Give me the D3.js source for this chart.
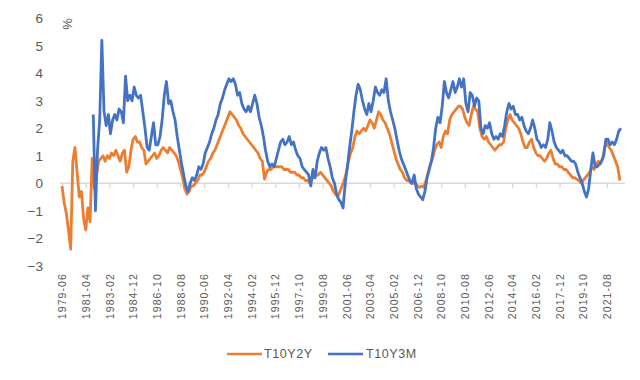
<!DOCTYPE html>
<html><head><meta charset="utf-8">
<script src="https://cdn.jsdelivr.net/npm/d3@7"></script>
<style>
body{margin:0;background:#fff}
svg{display:block}
text{font-family:"Liberation Sans",Arial,sans-serif;fill:#595959}
</style>
</head><body>
<svg id="chart" width="640" height="380"></svg>
<script>
// ---- data ----
const seriesNames = ["T10Y2Y", "T10Y3M"];
const seriesColors = ["#ED7D31", "#4472C4"];
const t10y2yStart = "1979-06";   // first observation
const t10y3mStart = "1981-11";
const stepMonths = 2;            // one value every two months

const t10y2y = [
 -0.1,-0.7,-1.1,-1.7,-2.4,0.8,1.3,0.4,-0.5,-0.3,-1.3,-1.7,-0.9,-1.4,0.9,-0.2,0.3,0.8,0.9,1.0,
 0.8,1.0,0.9,1.1,1.0,1.2,1.0,0.8,1.1,1.2,0.4,0.6,1.2,1.6,1.7,1.5,1.5,1.3,1.2,0.7,
 0.8,0.9,1.0,1.1,0.9,1.0,1.2,1.3,1.2,1.1,1.3,1.2,1.1,1.0,0.8,0.5,0.2,-0.2,-0.4,-0.3,
 -0.1,-0.1,0.0,0.1,0.3,
 0.3,0.4,0.6,0.8,0.9,1.1,1.2,1.4,1.6,1.8,2.0,2.2,2.4,2.6,2.5,2.4,2.3,2.1,2.0,1.8,
 1.7,1.6,1.5,1.4,1.3,1.2,1.1,0.9,0.8,0.15,0.4,0.5,0.5,0.6,0.6,0.6,0.6,0.6,0.5,0.5,
 0.5,0.4,0.4,0.4,0.3,0.3,0.2,0.2,0.1,0.1,0.0,0.2,0.2,0.3,0.3,0.4,0.3,0.2,0.1,0.0,
 -0.1,-0.3,-0.4,-0.5,-0.3,
 -0.1,0.1,0.4,0.8,1.1,1.3,1.7,1.9,1.8,1.9,2.0,1.9,2.1,2.3,2.2,2.0,2.3,2.6,2.5,2.3,
 2.2,2.0,1.8,1.5,1.2,0.9,0.7,0.5,0.4,0.2,0.1,0.1,0.0,0.0,0.0,-0.1,-0.15,-0.1,-0.15,0.1,
 0.4,0.7,0.9,1.2,1.4,1.5,1.3,1.7,1.9,1.8,2.3,2.5,2.6,2.7,2.8,2.8,2.7,2.4,2.2,2.1,
 2.5,2.8,2.7,2.6,
 2.0,1.7,1.6,1.7,1.5,1.4,1.3,1.2,1.3,1.4,1.4,1.5,2.0,2.3,2.5,2.3,2.2,2.1,2.0,1.8,
 1.5,1.3,1.3,1.5,1.6,1.3,1.1,1.0,1.0,0.9,0.8,0.9,1.1,1.2,0.9,0.7,0.7,0.6,0.6,0.5,
 0.5,0.4,0.3,0.2,0.2,0.15,0.1,0.0,0.1,0.2,0.3,0.4,0.6,0.5,0.7,0.8,0.7,0.9,1.3,1.5,
 1.3,1.2,1.0,0.8,0.6,0.1
];

const t10y3m = [
 2.5,-1.0,1.2,2.3,5.2,2.6,2.1,2.5,1.8,2.3,2.5,2.3,2.7,2.6,2.2,3.9,3.0,3.2,3.0,3.5,
 3.2,3.1,3.2,2.6,2.0,1.3,1.2,1.7,2.2,1.4,1.4,1.7,2.3,3.2,3.7,2.9,3.0,2.6,2.3,1.7,
 1.2,0.7,0.3,-0.1,-0.3,0.0,0.2,0.1,0.3,0.6,
 0.5,0.7,1.1,1.3,1.5,1.8,2.0,2.3,2.5,2.9,3.1,3.4,3.6,3.8,3.7,3.8,3.6,3.2,3.3,2.9,
 2.7,2.6,2.8,2.6,2.9,3.2,2.9,2.4,2.1,1.7,1.2,0.8,0.6,0.7,0.6,0.9,1.2,1.5,1.6,1.4,
 1.5,1.7,1.4,1.5,1.2,1.0,0.9,0.6,0.5,0.4,0.3,-0.1,0.5,0.2,0.8,1.1,1.3,1.2,1.3,0.9,
 0.6,0.2,0.0,-0.4,-0.6,-0.7,
 -0.9,0.0,0.6,1.3,1.9,2.6,3.2,3.6,3.4,3.0,2.7,2.5,2.9,2.6,3.0,3.5,3.3,3.2,3.4,3.3,
 3.8,3.0,2.6,2.3,2.0,1.6,1.2,0.9,0.7,0.5,0.3,0.1,0.0,0.3,-0.2,-0.4,-0.5,-0.6,-0.3,0.2,
 0.5,0.8,1.3,2.0,2.4,2.2,2.8,3.7,3.3,3.1,3.4,3.7,3.3,3.5,3.8,3.5,3.8,2.9,2.6,3.3,
 3.2,2.8,3.1,3.0,
 2.0,1.8,2.1,2.0,2.2,1.8,1.6,1.7,1.6,1.8,1.7,2.1,2.6,2.9,2.7,2.8,2.5,2.5,2.3,2.4,
 2.1,1.9,1.8,2.0,2.3,2.0,1.6,1.5,1.3,1.4,1.3,1.6,2.2,1.9,1.5,1.3,1.2,1.1,1.2,1.0,
 1.0,0.9,0.8,0.8,0.7,0.4,0.2,0.0,-0.3,-0.5,-0.2,0.5,1.1,0.6,0.6,0.7,0.8,1.0,1.6,1.6,
 1.4,1.5,1.4,1.6,1.9,2.0
];

const xTickLabels = ["1979-06","1981-04","1983-02","1984-12","1986-10","1988-08",
 "1990-06","1992-04","1994-02","1995-12","1997-10","1999-08","2001-06","2003-04",
 "2005-02","2006-12","2008-10","2010-08","2012-06","2014-04","2016-02","2017-12",
 "2019-10","2021-08"];
const yTicks = [-3,-2,-1,0,1,2,3,4,5,6];
const yUnit = "%";
const xDomain = ["1979-06","2022-06"];

// ---- drawing ----
const parse = d3.timeParse("%Y-%m");
const svg = d3.select("#chart");

const x = d3.scaleTime().domain(xDomain.map(parse)).range([62, 617.7]);
const y = d3.scaleLinear().domain([-3, 6]).range([265.7, 18.3]);

function toPoints(start, values) {
  const s = parse(start);
  return values.map((v, i) => ({date: d3.timeMonth.offset(s, i * stepMonths), value: v}));
}
const series = [toPoints(t10y2yStart, t10y2y), toPoints(t10y3mStart, t10y3m)];

// zero axis line with tick marks
const xAxis = d3.axisBottom(x)
  .tickValues(xTickLabels.map(parse))
  .tickFormat((d, i) => xTickLabels[i])
  .tickSize(5)
  .tickSizeOuter(0);
const gx = svg.append("g").attr("transform", `translate(0,${y(0)})`).call(xAxis);
gx.select(".domain").remove();
gx.insert("line", ":first-child")
  .attr("x1", 60).attr("x2", 625).attr("y1", 0).attr("y2", 0)
  .attr("stroke", "#D9D9D9").attr("stroke-width", 1.3);
gx.selectAll(".tick line").attr("stroke", "#D9D9D9").attr("stroke-width", 1.3);
gx.selectAll(".tick text")
  .attr("transform", "rotate(-90)")
  .attr("x", -(273 - y(0)))
  .attr("y", 0)
  .attr("dy", "0.35em")
  .attr("text-anchor", "end")
  .style("font-size", "10.5px")
  .style("letter-spacing", "1.1px")
  .style("fill", "#595959")
  .style("font-family", '"Liberation Sans",Arial,sans-serif');

// y axis labels only
const yAxis = d3.axisLeft(y).tickValues(yTicks).tickSize(0).tickPadding(0);
const gy = svg.append("g").attr("transform", "translate(43,0)").call(yAxis);
gy.select(".domain").remove();
gy.selectAll(".tick text")
  .style("font-size", "13.5px")
  .style("fill", "#595959")
  .style("font-family", '"Liberation Sans",Arial,sans-serif');

// unit label
svg.append("text")
  .attr("transform", "translate(67,24) rotate(-90)")
  .attr("text-anchor", "middle")
  .attr("dy", "0.35em")
  .style("font-size", "13px")
  .text(yUnit);

// lines
const line = d3.line().x(d => x(d.date)).y(d => y(d.value));
series.forEach((pts, i) => {
  svg.append("path")
    .datum(pts)
    .attr("fill", "none")
    .attr("stroke", seriesColors[i])
    .attr("stroke-width", 2.8)
    .attr("stroke-linejoin", "round")
    .attr("d", line);
});

// legend
const legendItems = [{x: 227, tx: 264}, {x: 328, tx: 366}];
legendItems.forEach((p, i) => {
  svg.append("line")
    .attr("x1", p.x).attr("x2", p.x + 35)
    .attr("y1", 354).attr("y2", 354)
    .attr("stroke", seriesColors[i]).attr("stroke-width", 2.5);
  svg.append("text")
    .attr("x", p.tx).attr("y", 354).attr("dy", "0.35em")
    .style("font-size", "12.5px")
    .style("letter-spacing", "0.6px")
    .text(seriesNames[i]);
});
</script>
</body></html>
